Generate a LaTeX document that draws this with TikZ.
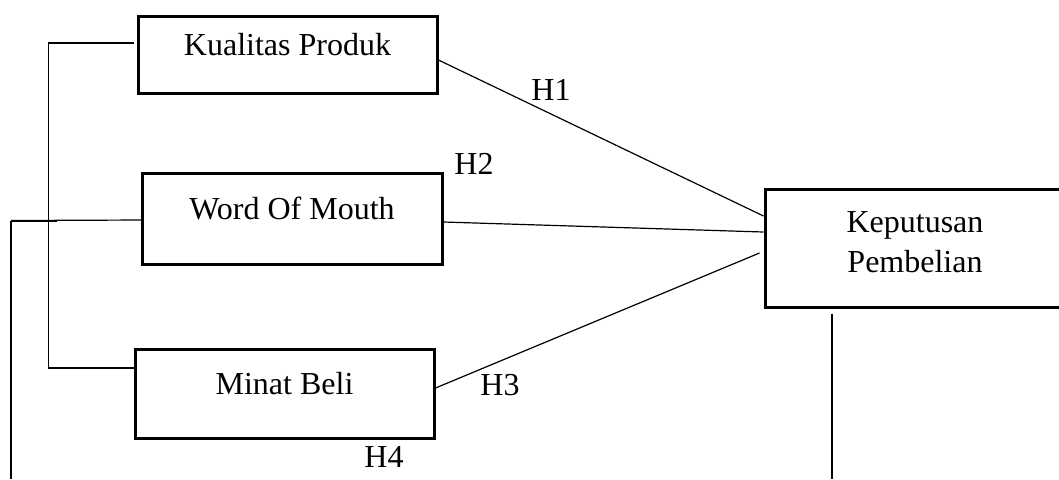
\documentclass[tikz,border=0pt]{standalone}
\usepackage{fontspec}
\setmainfont{Liberation Serif}
\usepackage{tikz}

\begin{document}
\begin{tikzpicture}[x=0.5pt,y=-0.5pt,
  var_box/.style={draw,line width=1.5pt,inner sep=0pt,text depth=10pt,font=\fontsize{16}{20}\selectfont},
  hyp_label/.style={inner sep=0pt,font=\fontsize{16}{20}\selectfont}]

    \useasboundingbox (0,0) rectangle (1059,479);
    \clip (0,0) rectangle (1059,479);

    \node[var_box,minimum width=149.5pt,minimum height=38.5pt] (kq) at (287.5,54.5) {Kualitas Produk};
    \node[var_box,minimum width=150pt,minimum height=45.5pt] (wom) at (292,218.5) {Word Of Mouth};
    \node[var_box,minimum width=149.5pt,minimum height=44.5pt] (mb) at (284.5,393.5) {Minat Beli};
    \node[var_box,minimum width=150pt,minimum height=59pt,align=center,text depth=6pt] (kp) at (915,248) {Keputusan\\Pembelian};

    \coordinate (src) at (11,220.5);
    \coordinate (bot) at (0,479);

    \node[hyp_label] (h1) at (551,90) {H1};
    \node[hyp_label] (h2) at (474,164) {H2};
    \node[hyp_label] (h3) at (500,385.5) {H3};
    \node[hyp_label] (h4) at (384,457) {H4};

    \begin{scope}[every path/.style={line width=0.6pt}]
    \draw ([yshift=-2.75pt]kq.east) -- ([yshift=16pt]kp.west);
    \draw ([yshift=-1.75pt]wom.east) -- ([yshift=8pt]kp.west);
    \draw ([yshift=2.75pt]mb.east) -- ([xshift=-2pt,yshift=-2.5pt]kp.west);
    \end{scope}

    % bracket on the left
    \begin{scope}[every path/.style={line width=0.6pt}]
    \draw ([xshift=-1.5pt,yshift=5.75pt]kq.west) -- ++(-85,0) |- ([xshift=1pt,yshift=12.75pt]mb.west);
    \draw (src) -- ([xshift=1.5pt,yshift=-0.75pt]wom.west);
    \draw (src) -- (src |- bot);
    \draw ([xshift=-41.5pt,yshift=-2.5pt]kp.south) -- ([xshift=-41.5pt]kp.south |- bot);
    \end{scope}
    \draw[line width=1pt] (src) -- ++(46,0);

\end{tikzpicture}
\end{document}
